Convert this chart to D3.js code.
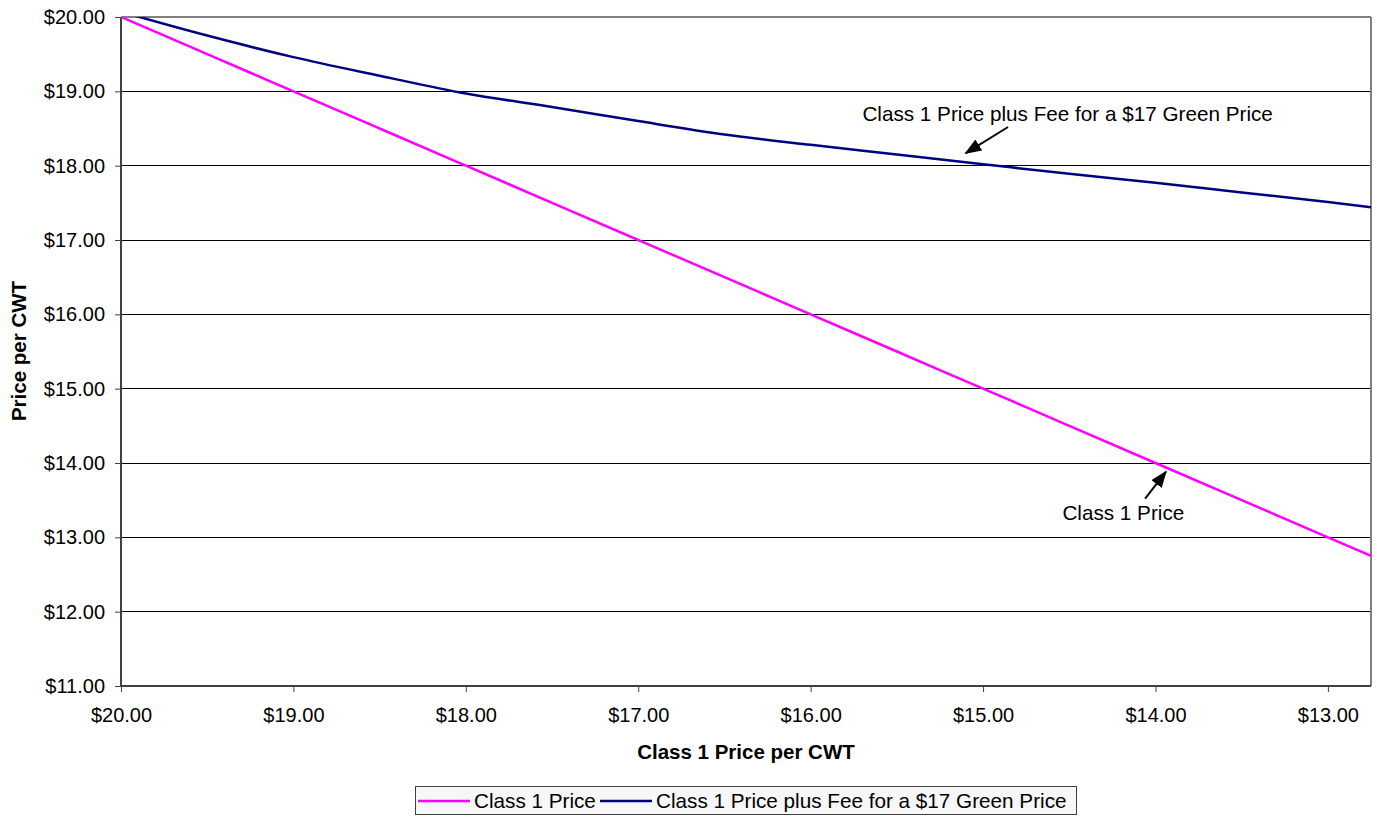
<!DOCTYPE html>
<html>
<head>
<meta charset="utf-8">
<script src="https://cdn.jsdelivr.net/npm/d3@7"></script>
<style>
  html, body { margin: 0; padding: 0; background: #fff; }
  svg text { font-family: "Liberation Sans", Arial, sans-serif; fill: #000; }
</style>
</head>
<body>
<svg id="chart" width="1377" height="817"></svg>
<script>
// ---- data ----
const class1Prices = [20.00, 19.50, 19.00, 18.50, 18.00, 17.50, 17.00, 16.50, 16.00, 15.50, 15.00, 14.50, 14.00, 13.50, 13.00, 12.75];
const class1Series = [20.00, 19.50, 19.00, 18.50, 18.00, 17.50, 17.00, 16.50, 16.00, 15.50, 15.00, 14.50, 14.00, 13.50, 13.00, 12.75];
const plusFeeSeries = [20.07, 19.75, 19.46, 19.21, 18.97, 18.79, 18.60, 18.42, 18.28, 18.15, 18.02, 17.89, 17.77, 17.64, 17.51, 17.44];
const xTicks = [20, 19, 18, 17, 16, 15, 14, 13];
const yTicks = [11, 12, 13, 14, 15, 16, 17, 18, 19, 20];
const seriesNames = ["Class 1 Price", "Class 1 Price plus Fee for a $17 Green Price"];
const seriesColors = ["#FF00FF", "#000080"];
const xTitle = "Class 1 Price per CWT";
const yTitle = "Price per CWT";
// annotations in data units
const annotations = [
  { text: "Class 1 Price plus Fee for a $17 Green Price", tx: 15.70, ty: 18.60, ax0: 14.855, ay0: 18.52, ax1: 15.10, ay1: 18.17 },
  { text: "Class 1 Price", tx: 14.54, ty: 13.23, ax0: 14.06, ay0: 13.52, ax1: 13.94, ay1: 13.88 }
];

// ---- layout ----
const L = 121, R = 1371, T = 17, B = 686;
const x = d3.scaleLinear().domain([20, 12.75]).range([L, R]);
const y = d3.scaleLinear().domain([11, 20]).range([B, T]);
const fmt = d => "$" + d3.format(".2f")(d);

const svg = d3.select("#chart");
const defs = svg.append("defs");
defs.append("clipPath").attr("id", "plotclip")
  .append("rect").attr("x", L).attr("y", T).attr("width", R - L).attr("height", B - T);
defs.append("marker").attr("id", "arrowhead")
  .attr("viewBox", "0 0 10 10").attr("refX", 9).attr("refY", 5)
  .attr("markerWidth", 17).attr("markerHeight", 13).attr("markerUnits", "userSpaceOnUse")
  .attr("orient", "auto").attr("preserveAspectRatio", "none")
  .append("path").attr("d", "M0,0 L10,5 L0,10 z").attr("fill", "#000");

// gridlines
svg.append("g").selectAll("line").data(yTicks.filter(v => v > 11 && v < 20)).join("line")
  .attr("x1", L).attr("x2", R).attr("y1", d => y(d)).attr("y2", d => y(d))
  .attr("stroke", "#000").attr("stroke-width", 1).attr("shape-rendering", "crispEdges");

// plot border top/right
svg.append("line").attr("x1", L).attr("x2", R).attr("y1", T).attr("y2", T)
  .attr("stroke", "#808080").attr("stroke-width", 2);
svg.append("line").attr("x1", R).attr("x2", R).attr("y1", T).attr("y2", B)
  .attr("stroke", "#808080").attr("stroke-width", 2);

// axes
const yAxis = d3.axisLeft(y).tickValues(yTicks).tickFormat(fmt).tickSize(6).tickPadding(10);
const gy = svg.append("g").attr("transform", `translate(${L},0)`).call(yAxis);
const xAxis = d3.axisBottom(x).tickValues(xTicks).tickFormat(fmt).tickSize(6).tickPadding(16);
const gx = svg.append("g").attr("transform", `translate(0,${B})`).call(xAxis);
[gx, gy].forEach(g => {
  g.select(".domain").attr("stroke", "#404040").attr("stroke-width", 2);
  g.selectAll(".tick line").attr("stroke", "#404040");
  g.selectAll(".tick text").attr("font-size", 20).attr("font-family", "Liberation Sans, Arial, sans-serif").attr("fill", "#000");
});
gx.select(".domain").attr("d", `M${L},0H${R}`);
gy.select(".domain").attr("d", `M0,${B}V${T}`);

// titles
svg.append("text").attr("x", (L + R) / 2).attr("y", 759).attr("text-anchor", "middle")
  .attr("font-size", 20.5).attr("font-weight", "bold").text(xTitle);
svg.append("text").attr("transform", "translate(26,351) rotate(-90)").attr("text-anchor", "middle")
  .attr("font-size", 20.5).attr("font-weight", "bold").text(yTitle);

// lines
const seriesData = [class1Series, plusFeeSeries];
const gl = svg.append("g").attr("clip-path", "url(#plotclip)");
seriesData.forEach((vals, i) => {
  const pts = class1Prices.map((p, j) => [p, vals[j]]);
  gl.append("path").datum(pts)
    .attr("fill", "none").attr("stroke", seriesColors[i]).attr("stroke-width", 2.5)
    .attr("d", d3.line().x(d => x(d[0])).y(d => y(d[1])).curve(d3.curveMonotoneX));
});

// annotations
annotations.forEach(a => {
  svg.append("text").attr("x", x(a.tx)).attr("y", y(a.ty)).attr("font-size", 20.7).text(a.text);
  svg.append("line").attr("x1", x(a.ax0)).attr("y1", y(a.ay0)).attr("x2", x(a.ax1)).attr("y2", y(a.ay1))
    .attr("stroke", "#000").attr("stroke-width", 2).attr("marker-end", "url(#arrowhead)");
});

// legend
const lg = svg.append("g");
lg.append("rect").attr("x", 415.5).attr("y", 786.5).attr("width", 661).attr("height", 28)
  .attr("fill", "#f7f7f7").attr("stroke", "#404040").attr("stroke-width", 1);
const legendItems = [
  { sx: 418, ex: 470, tx: 474 },
  { sx: 600, ex: 652, tx: 656 }
];
legendItems.forEach((it, i) => {
  lg.append("line").attr("x1", it.sx).attr("x2", it.ex).attr("y1", 801).attr("y2", 801)
    .attr("stroke", seriesColors[i]).attr("stroke-width", 2.5);
  lg.append("text").attr("x", it.tx).attr("y", 808).attr("font-size", 20.7).text(seriesNames[i]);
});
</script>
</body>
</html>
